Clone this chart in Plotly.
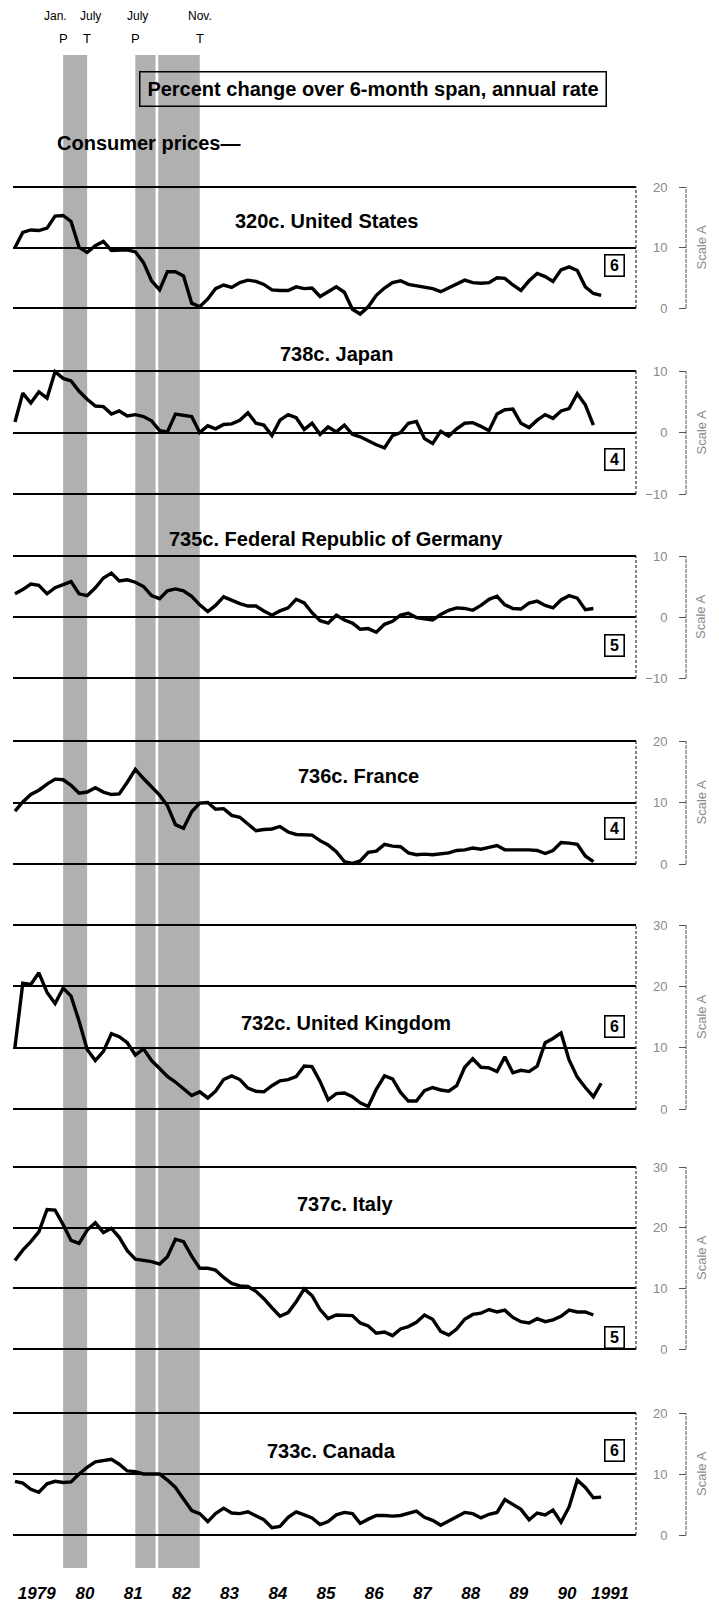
import pandas as pd
import plotly.graph_objects as go

# bimonthly readings (Jan, Mar, May, ...) starting Jan 1979
months = pd.date_range("1979-01-01", periods=74, freq="2MS")

titles = ["320c. United States", "738c. Japan", "735c. Federal Republic of Germany",
          "736c. France", "732c. United Kingdom", "737c. Italy", "733c. Canada"]
badges = ["6", "4", "5", "4", "6", "5", "6"]
scale_ranges = [(0, 20), (-10, 10), (-10, 10), (0, 20), (0, 30), (0, 30), (0, 20)]

us = [10.0, 12.5, 12.9, 12.8, 13.2, 15.2, 15.3, 14.3, 10.0, 9.2,
      10.3, 11.0, 9.5, 9.5, 9.6, 9.3, 7.5, 4.5, 3.0, 6.0,
      6.0, 5.3, 0.8, 0.2, 1.5, 3.2, 3.8, 3.4, 4.2, 4.6,
      4.4, 3.9, 3.0, 2.9, 2.9, 3.5, 3.2, 3.3, 1.9, 2.7,
      3.5, 2.6, -0.2, -1.0, 0.2, 2.1, 3.3, 4.2, 4.5, 3.9,
      3.7, 3.5, 3.2, 2.7, 3.3, 3.9, 4.6, 4.2, 4.1, 4.2,
      5.0, 4.9, 3.8, 2.9, 4.5, 5.7, 5.2, 4.4, 6.3, 6.8,
      6.2, 3.5, 2.4, 2.1]
japan = [1.7, 6.4, 4.8, 6.6, 5.6, 9.9, 8.8, 8.4, 6.7, 5.4,
         4.3, 4.2, 3.0, 3.5, 2.7, 2.9, 2.6, 1.9, 0.3, 0.1,
         3.0, 2.8, 2.6, 0.0, 1.1, 0.6, 1.3, 1.4, 2.0, 3.2,
         1.5, 1.2, -0.5, 2.0, 2.9, 2.4, 0.5, 1.5, -0.3, 0.9,
         0.1, 1.2, -0.3, -0.7, -1.4, -2.0, -2.5, -0.5, 0.0, 1.5,
         1.8, -1.0, -1.8, 0.2, -0.6, 0.6, 1.5, 1.6, 1.0, 0.3,
         3.0, 3.7, 3.8, 1.5, 0.8, 2.0, 2.9, 2.3, 3.5, 3.9,
         6.3, 4.5, 1.2]
germany = [3.8, 4.5, 5.4, 5.2, 3.8, 4.8, 5.3, 5.8, 3.8, 3.5,
           4.8, 6.4, 7.2, 5.9, 6.1, 5.7, 5.0, 3.5, 3.0, 4.3,
           4.6, 4.3, 3.4, 2.0, 0.9, 1.9, 3.3, 2.7, 2.2, 1.8,
           1.8, 1.0, 0.3, 1.0, 1.5, 2.9, 2.3, 0.7, -0.6, -1.0,
           0.3, -0.5, -1.0, -2.0, -1.9, -2.5, -1.2, -0.7, 0.3, 0.6,
           -0.1, -0.3, -0.5, 0.4, 1.1, 1.5, 1.4, 1.1, 1.9, 2.9,
           3.4, 2.0, 1.4, 1.3, 2.3, 2.6, 1.9, 1.5, 2.8, 3.5,
           3.1, 1.2, 1.4]
france = [8.6, 10.1, 11.3, 12.0, 13.0, 13.8, 13.7, 12.8, 11.5, 11.7,
          12.4, 11.7, 11.3, 11.4, 13.3, 15.4, 13.9, 12.5, 11.2, 9.5,
          6.4, 5.8, 8.5, 9.9, 10.0, 8.9, 9.0, 7.9, 7.6, 6.5,
          5.4, 5.6, 5.7, 6.1, 5.2, 4.8, 4.8, 4.7, 3.8, 3.1,
          2.0, 0.4, 0.1, 0.5, 1.9, 2.1, 3.2, 2.9, 2.8, 1.8,
          1.5, 1.6, 1.5, 1.6, 1.8, 2.2, 2.3, 2.6, 2.4, 2.7,
          3.0, 2.3, 2.3, 2.4, 2.3, 2.2, 1.7, 2.2, 3.5, 3.4,
          3.2, 1.3, 0.4]
uk = [10.1, 20.5, 20.3, 22.2, 19.0, 17.2, 19.7, 18.4, 14.3, 9.7,
      7.9, 9.4, 12.3, 11.8, 10.8, 8.8, 9.8, 7.9, 6.6, 5.3,
      4.4, 3.3, 2.2, 2.8, 1.8, 2.9, 4.8, 5.4, 4.8, 3.4,
      2.9, 2.8, 3.8, 4.6, 4.8, 5.3, 7.0, 6.9, 4.5, 1.5,
      2.5, 2.6, 2.0, 1.0, 0.4, 3.2, 5.4, 4.9, 2.7, 1.3,
      1.3, 3.0, 3.5, 3.1, 2.9, 3.8, 6.8, 8.2, 6.8, 6.7,
      6.1, 8.5, 5.9, 6.3, 6.1, 7.0, 10.8, 11.5, 12.4, 8.0,
      5.2, 3.5, 2.0, 4.2]
italy = [14.6, 16.3, 17.7, 19.3, 23.0, 22.9, 20.5, 17.9, 17.4, 19.6,
         20.8, 19.2, 19.9, 18.4, 16.2, 14.8, 14.6, 14.4, 14.0, 15.2,
         18.1, 17.7, 15.3, 13.3, 13.3, 13.0, 11.8, 10.8, 10.4, 10.3,
         9.5, 8.3, 6.8, 5.4, 6.0, 7.8, 9.9, 8.8, 6.5, 5.0,
         5.6, 5.5, 5.5, 4.3, 3.8, 2.6, 2.8, 2.2, 3.3, 3.7,
         4.4, 5.6, 4.9, 2.9, 2.3, 3.3, 4.9, 5.7, 5.9, 6.5,
         6.1, 6.4, 5.2, 4.5, 4.3, 5.0, 4.5, 4.8, 5.4, 6.4,
         6.1, 6.1, 5.6]
canada = [8.8, 8.5, 7.5, 7.0, 8.4, 8.8, 8.6, 8.7, 10.0, 11.1,
          12.0, 12.2, 12.4, 11.6, 10.5, 10.4, 10.0, 10.0, 10.0, 9.0,
          7.8, 5.9, 4.0, 3.5, 2.2, 3.5, 4.4, 3.6, 3.5, 3.8,
          3.2, 2.5, 1.2, 1.4, 2.9, 3.8, 3.3, 2.8, 1.7, 2.2,
          3.3, 3.7, 3.5, 1.9, 2.6, 3.2, 3.2, 3.1, 3.2, 3.6,
          3.9, 2.9, 2.4, 1.6, 2.3, 3.1, 3.7, 3.5, 2.8, 3.4,
          3.7, 5.8, 5.0, 4.2, 2.5, 3.6, 3.3, 4.1, 2.1, 4.6,
          9.0, 7.8, 6.1, 6.2]
series = [us, japan, germany, france, uk, italy, canada]

# business cycle shading (peak -> trough); the print shows a white seam in the 1981-82 band
bands = [("1980-01-01", "1980-07-01"), ("1981-07-01", "1981-12-01"), ("1981-12-22", "1982-11-01")]
turn_months = ["Jan.", "July", "July", "Nov."]
turn_types = ["P", "T", "P", "T"]
turn_dates = ["1980-01-01", "1980-07-01", "1981-07-01", "1982-11-01"]

year_ticks = ["1979-06-15", "1980-06-15", "1981-06-15", "1982-06-15", "1983-06-15", "1984-06-15",
              "1985-06-15", "1986-06-15", "1987-06-15", "1988-06-15", "1989-06-15", "1990-06-15",
              "1991-05-08"]
year_labels = ["1979", "80", "81", "82", "83", "84", "85", "86", "87", "88", "89", "90", "1991"]

# ---- layout in pixels (page coordinates; the page body adds an 8px offset) ----
W, H = 719, 1601
OFF = 8
X_LEFT, X_RIGHT, AXIS_X = 13, 636, 686
panel_px = [(187, 308), (371, 494), (556, 678), (741, 864), (925, 1109), (1167, 1349), (1413, 1535)]
pad_below = [2.0, 0.6, 0.6, 0.6, 0.6, 0.6, 0.6]
title_px = [(326, 221), (336, 354), (336, 539), (358, 776), (346, 1023), (345, 1204), (331, 1451)]
badge_y = [265, 460, 645, 828, 1026, 1337, 1450]
month_shift = [-8, 3, 2, 0]

SANS = "Liberation Sans, Arial, sans-serif"


def px(x):
    return (x - OFF) / W


def py(y):
    return 1 - (y - OFF) / H


fig = go.Figure()
shapes = []
annotations = []
pad_above = 0.6

for i, vals in enumerate(series):
    n = i + 1
    yname = "y" if n == 1 else f"y{n}"
    top, bot = panel_px[i]
    lo, hi = scale_ranges[i]
    unit = (bot - top) / (hi - lo)
    fig.add_trace(go.Scatter(x=months[:len(vals)], y=vals, mode="lines",
                             line=dict(color="black", width=3.4),
                             xaxis="x", yaxis=yname, hoverinfo="skip"))
    fig.update_layout(**{("yaxis" if n == 1 else f"yaxis{n}"): dict(
        domain=[py(bot + pad_below[i] * unit), py(top - pad_above * unit)],
        range=[lo - pad_below[i], hi + pad_above],
        anchor="free", position=px(AXIS_X), side="left",
        tickmode="linear", tick0=lo, dtick=10,
        showline=False,
        ticks="outside", ticklen=7, tickcolor="#555", tickwidth=1, ticklabelstandoff=9,
        tickfont=dict(family=SANS, size=13, color="#8a8a8a"),
        showgrid=True, gridcolor="black", gridwidth=2.2,
        zeroline=False, fixedrange=True,
    )})
    # scale line on the right, from the bottom to the top of the scale
    shapes.append(dict(type="line", xref="paper", yref=yname,
                       x0=px(AXIS_X), x1=px(AXIS_X), y0=lo, y1=hi,
                       line=dict(color="#555", width=1, dash="4px,1px")))
    # dashed right border of the panel
    shapes.append(dict(type="line", xref="x domain", yref=yname,
                       x0=1, x1=1, y0=lo, y1=hi,
                       line=dict(color="#333", width=1.2, dash="3px,2px")))
    tx, ty = title_px[i]
    annotations.append(dict(text=titles[i], x=px(tx), y=py(ty), xref="paper", yref="paper",
                            showarrow=False, xanchor="center", yanchor="middle",
                            font=dict(family=SANS, size=20, color="black", weight="bold")))
    annotations.append(dict(text=badges[i], x=px(614), y=py(badge_y[i]), xref="paper", yref="paper",
                            showarrow=False, xanchor="center", yanchor="middle",
                            width=16, height=18, borderpad=1, borderwidth=1.6,
                            bordercolor="black", bgcolor="white",
                            font=dict(family=SANS, size=16, color="black", weight="bold")))
    annotations.append(dict(text="Scale A", x=px(701), y=py((top + bot) / 2), xref="paper", yref="paper",
                            showarrow=False, textangle=-90, xanchor="center", yanchor="middle",
                            font=dict(family=SANS, size=13, color="#8a8a8a")))

for x0, x1 in bands:
    shapes.append(dict(type="rect", xref="x", yref="paper", x0=x0, x1=x1,
                       y0=py(1568), y1=py(55), fillcolor="#b0b0b0",
                       line=dict(width=0), layer="below"))

for m, t, d, s in zip(turn_months, turn_types, turn_dates, month_shift):
    annotations.append(dict(text=m, x=d, y=py(16), xref="x", yref="paper", showarrow=False,
                            xanchor="center", yanchor="middle", xshift=s,
                            font=dict(family=SANS, size=12, color="black")))
    annotations.append(dict(text=t, x=d, y=py(38), xref="x", yref="paper", showarrow=False,
                            xanchor="center", yanchor="middle",
                            font=dict(family=SANS, size=13, color="black")))

annotations.append(dict(text="Percent change over 6-month span, annual rate",
                        x=px(373.5), y=py(88.5), xref="paper", yref="paper", showarrow=False,
                        xanchor="center", yanchor="middle", width=465, height=33,
                        borderpad=0, borderwidth=1.5, bordercolor="black",
                        font=dict(family=SANS, size=20, color="black", weight="bold")))
annotations.append(dict(text="Consumer prices\u2014", x=px(55), y=py(143), xref="paper", yref="paper",
                        showarrow=False, xanchor="left", yanchor="middle",
                        font=dict(family=SANS, size=20, color="black", weight="bold")))

fig.update_layout(
    width=W, height=H,
    margin=dict(l=0, r=0, t=0, b=0, autoexpand=False),
    paper_bgcolor="white", plot_bgcolor="rgba(0,0,0,0)",
    showlegend=False,
    xaxis=dict(domain=[px(X_LEFT), px(X_RIGHT)], type="date",
               range=["1978-12-17", "1991-11-20"],
               anchor="free", position=py(1581),
               tickmode="array", tickvals=year_ticks, ticktext=year_labels,
               ticks="", showline=False, showgrid=False, zeroline=False,
               tickfont=dict(family=SANS, size=17, color="black", weight="bold", style="italic"),
               fixedrange=True),
    shapes=shapes,
    annotations=annotations,
)

fig.write_html("out.html")
